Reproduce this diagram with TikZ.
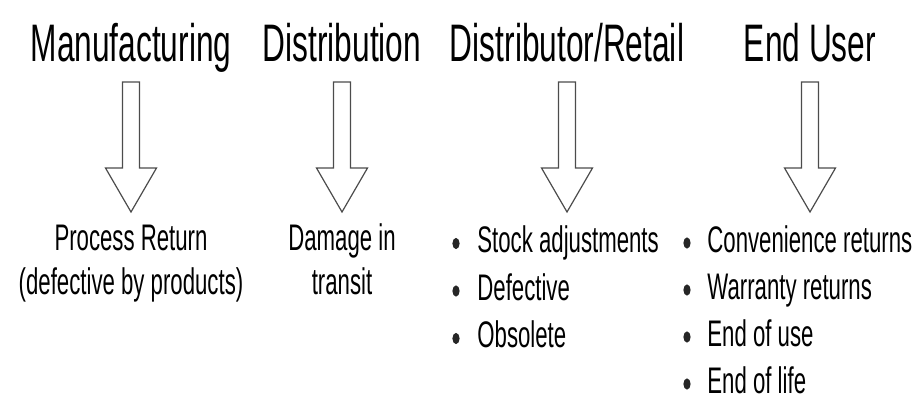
\documentclass[tikz,border=0pt]{standalone}
\usepackage{fontspec}
\setmainfont[FakeStretch=0.6]{Liberation Sans}
\usetikzlibrary{shapes.geometric}
\begin{document}
\begin{tikzpicture}[x=0.5pt,y=-0.5pt,
    heading/.style={anchor=base,inner sep=0pt,font=\fontsize{26.4}{30}\selectfont},
    body/.style={anchor=base,inner sep=0pt,font=\fontsize{18.5}{22}\selectfont},
    item/.style={body,anchor=base west},
    dot/.style={ellipse,fill=black!85,inner sep=0pt,minimum width=3.6pt,minimum height=5.6pt},
    blockarrow/.style={draw=black!70,fill=white,line width=0.6pt,line join=miter}]
    \useasboundingbox (0,0) rectangle (919,406);
    % stage headings
    \node[heading] (manu) at (131,62) {Manufacturing};
    \node[heading] (dist) at (342,62) {Distribution};
    \node[heading] (retail) at (567,62) {Distributor/Retail};
    \node[heading] (user) at (810,62) {End User};
    % hollow arrows under every heading
    \foreach \c in {131,342,567,810}{
      \draw[blockarrow] (\c-8.5,82) -- (\c+8.5,82) -- (\c+8.5,168) -- (\c+25.5,168)
        -- (\c,212) -- (\c-25.5,168) -- (\c-8.5,168) -- cycle;}
    % return types
    \node[body] (manu1) at (131,250) {Process Return};
    \node[body] (manu2) at (131,294) {(defective by products)};
    \node[body] (dist1) at (342,250) {Damage in};
    \node[body] (dist2) at (342,294) {transit};
    \foreach \t [count=\i] in {Stock adjustments,Defective,Obsolete}{
      \node[dot] (retailb\i) at (456,196+47.5*\i) {};
      \node[item] (retail\i) at (477,205+47.5*\i) {\t};}
    \foreach \t [count=\i] in {Convenience returns,Warranty returns,End of use,End of life}{
      \node[dot] (userb\i) at (687,196+47*\i) {};
      \node[item] (user\i) at (707,205+47*\i) {\t};}
  \end{tikzpicture}
\end{document}
